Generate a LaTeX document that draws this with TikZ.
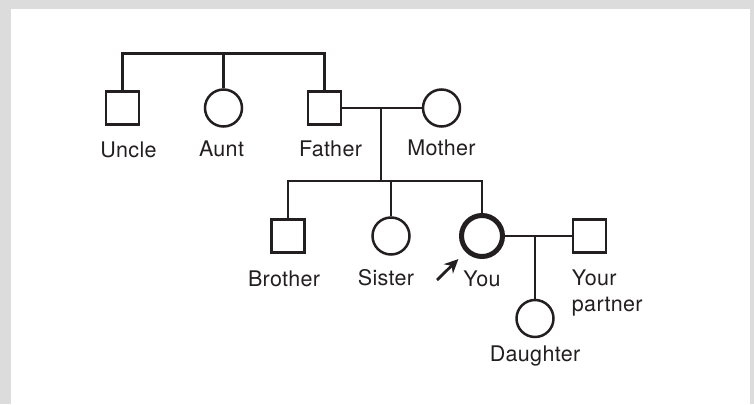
\documentclass[tikz,border=0pt]{standalone}
\usepackage{fontspec}
\setmainfont{TeX Gyre Heros}[LetterSpace=1.5]
\usetikzlibrary{positioning,arrows.meta}
\definecolor{ink}{HTML}{231F20}
\definecolor{frame}{HTML}{DCDCDC}
\tikzstyle{male}=[draw=ink, line width=2.5pt, minimum size=33pt, inner sep=0pt]
\tikzstyle{female}=[draw=ink, circle, line width=2.5pt, minimum size=37pt, inner sep=0pt]
\tikzstyle{proband}=[female, line width=5pt, minimum size=41pt]
\tikzstyle{lbl}=[inner sep=0pt, text=ink, font=\fontsize{21.5}{26}\selectfont]
\tikzstyle{link}=[draw=ink, line width=2.5pt]
\tikzstyle{pointer}=[link, line width=2.8pt, -{Stealth[length=14pt,width=13pt]}]

\begin{document}
\begin{tikzpicture}[x=1pt, y=-1pt]
    \fill[frame] (0,0) rectangle (754,404);
    \fill[white] (11,9) rectangle (750,404);
    % first generation
    \node (un) [male] at (122.5,108)                  {};
    \node (au) [female, node distance=101pt, right of=un] {};
    \node (f)  [male, node distance=101pt, right of=au]   {};
    \node (m)  [female, node distance=117pt, right of=f]  {};
    % second generation
    \node (b)  [male] at (288,236)                    {};
    \node (s)  [female, node distance=103pt, right of=b]  {};
    \node (y)  [proband, node distance=91pt, right of=s]  {};
    \node (p)  [male, node distance=107.5pt, right of=y]  {};
    \node (d)  [female] at (535,318.5)                {};
    % labels
    \node (unl) [lbl, below=16pt of un, xshift=6pt]   {Uncle};
    \node (aul) [lbl, below=12.5pt of au, xshift=-2pt] {Aunt};
    \node (fl)  [lbl, below=15pt of f, xshift=6pt]    {Father};
    \node (ml)  [lbl, below=12pt of m]                {Mother};
    \node (bl)  [lbl, below=17pt of b, xshift=-4pt]   {Brother};
    \node (sl)  [lbl, below=13.5pt of s, xshift=-5pt] {Sister};
    \node (yl)  [lbl, below=12pt of y]                {You};
    \node (pl)  [lbl, below=15.5pt of p.south west, anchor=north west, align=left] {Your\\partner};
    \node (dl)  [lbl, below=7.7pt of d]               {Daughter};
    % lines
    \coordinate (gp)  at (223.5,53.5);
    \coordinate (fm)  at (381,108);
    \coordinate (sib) at (381,181);
    \coordinate (tail) at (437,280);
    \draw [link] (un.north) |- (gp) -| (f.north);
    \draw [link] (au) -- (gp);
    \draw [link] (f) -- (m);
    \draw [link] (fm) -- (sib);
    \draw [link] (b.north) |- (sib) -| (y.north);
    \draw [link] (s) -- (s |- sib);
    \draw [link] (y) -- (p);
    \draw [link] (d) -- (d |- y);
    \draw [pointer, shorten >=10pt] (tail) -- (y);
\end{tikzpicture}
\end{document}
